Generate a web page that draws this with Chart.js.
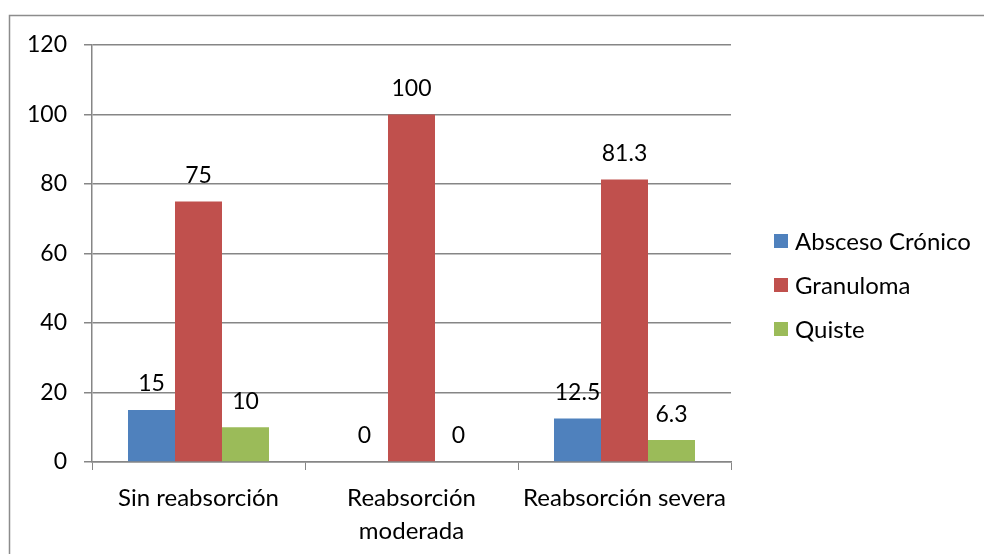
<!DOCTYPE html>
<html>
<head>
<meta charset="utf-8">
<script src="https://cdn.jsdelivr.net/npm/chart.js@4.4.0/dist/chart.umd.min.js"></script>
<style>
html,body{margin:0;padding:0;background:#fff;}
#wrap{position:relative;width:984px;height:554px;}
</style>
</head>
<body>
<div id="wrap"><canvas id="c" width="984" height="554"></canvas></div>
<script>
const categories = ["Sin reabsorción", ["Reabsorción", "moderada"], "Reabsorción severa"];
const seriesNames = ["Absceso Crónico", "Granuloma", "Quiste"];
const abscesoCronico = [15, 0, 12.5];
const granuloma = [75, 100, 81.3];
const quiste = [10, 0, 6.3];
const yTicks = [0, 20, 40, 60, 80, 100, 120];

const colors = ["#4F81BD", "#C0504D", "#9BBB59"];
const FONT = "Lato";
const GRID = "#868686";

const frame = {
  id: "frame",
  beforeDraw(chart) {
    const ctx = chart.ctx;
    ctx.save();
    ctx.fillStyle = "#fff";
    ctx.fillRect(0, 0, chart.width, chart.height);
    ctx.strokeStyle = "#8c8c8c";
    ctx.lineWidth = 1.5;
    ctx.beginPath();
    ctx.moveTo(9.5, 600);
    ctx.lineTo(9.5, 15.5);
    ctx.lineTo(1000, 15.5);
    ctx.stroke();
    ctx.restore();
  }
};

const valueLabels = {
  id: "valueLabels",
  afterDatasetsDraw(chart) {
    const ctx = chart.ctx;
    ctx.save();
    ctx.font = "23px " + FONT;
    ctx.fillStyle = "#000";
    ctx.textAlign = "center";
    ctx.textBaseline = "middle";
    chart.data.datasets.forEach((ds, i) => {
      const meta = chart.getDatasetMeta(i);
      meta.data.forEach((bar, j) => {
        ctx.fillText(String(ds.data[j]), bar.x, bar.y - 26);
      });
    });
    ctx.restore();
  }
};

const customLegend = {
  id: "customLegend",
  afterDraw(chart) {
    const ctx = chart.ctx;
    ctx.save();
    ctx.font = "24px " + FONT;
    ctx.textBaseline = "middle";
    ctx.textAlign = "left";
    const x0 = 774, y0 = 241, step = 44, sz = 14;
    chart.data.datasets.forEach((ds, i) => {
      const y = y0 + i * step;
      ctx.fillStyle = ds.backgroundColor;
      ctx.fillRect(x0, y - sz / 2, sz, sz);
      ctx.fillStyle = "#000";
      ctx.fillText(ds.label, x0 + 21, y + 1);
    });
    ctx.restore();
  }
};

new Chart(document.getElementById("c"), {
  type: "bar",
  data: {
    labels: categories,
    datasets: [
      { label: seriesNames[0], data: abscesoCronico, backgroundColor: colors[0] },
      { label: seriesNames[1], data: granuloma, backgroundColor: colors[1] },
      { label: seriesNames[2], data: quiste, backgroundColor: colors[2] }
    ]
  },
  options: {
    responsive: false,
    animation: false,
    devicePixelRatio: 1,
    layout: { padding: { left: 0, top: 45, right: 253, bottom: 0 } },
    datasets: { bar: { barPercentage: 1, categoryPercentage: 0.662 } },
    plugins: { legend: { display: false }, tooltip: { enabled: false } },
    scales: {
      x: {
        grid: { display: true, drawOnChartArea: false, drawTicks: true, tickLength: 8, color: GRID, offset: true },
        border: { display: true, color: GRID, width: 1.5 },
        ticks: { color: "#000", font: { family: FONT, size: 24, lineHeight: 1.375 }, padding: 12, maxRotation: 0, autoSkip: false },
        afterFit(scale) { scale.height = 92; }
      },
      y: {
        min: 0, max: 120,
        afterBuildTicks(scale) { scale.ticks = yTicks.map(v => ({ value: v })); },
        grid: { color: GRID, lineWidth: 1.5, drawTicks: true, tickLength: 8 },
        border: { display: true, color: GRID, width: 1.5 },
        ticks: { color: "#000", font: { family: FONT, size: 23 }, padding: 17 },
        afterFit(scale) { scale.width = 92; }
      }
    }
  },
  plugins: [frame, valueLabels, customLegend]
});
</script>
</body>
</html>
